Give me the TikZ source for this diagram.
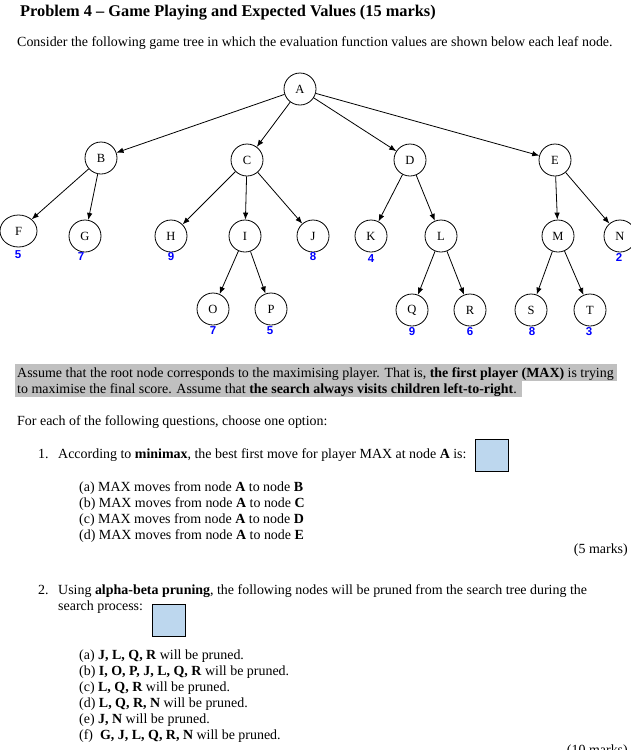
\documentclass[tikz,border=0pt]{standalone}
\usepackage{fontspec}
\setmainfont{Liberation Serif}
\newfontfamily\sansf{Liberation Sans}
\usetikzlibrary{arrows.meta,shapes.geometric}
\definecolor{boxblue}{HTML}{BDD7EE}
\definecolor{hlgray}{HTML}{C0C0C0}
\begin{document}
\begin{tikzpicture}[x=1pt,y=-1pt,
 tn/.style={circle,draw,line width=0.8pt,minimum size=32pt,inner sep=0pt,font=\fontsize{12.5}{12.5}\selectfont},
 tne/.style={ellipse,draw,line width=0.8pt,minimum width=37pt,minimum height=32pt,inner sep=0pt,font=\fontsize{12.5}{12.5}\selectfont},
 val/.style={text=blue,font=\sansf\bfseries\fontsize{11.5}{11.5}\selectfont,inner sep=0pt},
 edge/.style={-{Latex[length=7pt,width=5.5pt]},line width=0.8pt},
 txt/.style={anchor=base west,inner sep=0pt,font=\fontsize{13.95}{16}\selectfont},
 rtxt/.style={anchor=base east,inner sep=0pt,font=\fontsize{13.95}{16}\selectfont},
 ansbox/.style={draw,line width=0.8pt,fill=boxblue,minimum width=33pt,minimum height=32pt,inner sep=0pt},
 hl/.style={fill=hlgray,draw=none}
]
\useasboundingbox (0,0) rectangle (631,750);
% header
\node[anchor=base west,inner sep=0pt,font=\bfseries\fontsize{16.35}{18}\selectfont] (title) at (20,16) {Problem 4 -- Game Playing and Expected Values (15 marks)};
\node[txt] (intro) at (17,46) {Consider the following game tree in which the evaluation function values are shown below each leaf node.};
% tree
\node[tn] (A) at (300,89) {A};
\node[tn] (B) at (101,158) {B};
\node[tn] (C) at (247,160) {C};
\node[tn] (D) at (410,160) {D};
\node[tn] (E) at (555,160) {E};
\node[tne] (F) at (18.5,231) {F};
\node[tn] (G) at (85,236) {G};
\node[tn] (H) at (171,236) {H};
\node[tn] (I) at (245,236) {I};
\node[tn] (J) at (313,236) {J};
\node[tn] (K) at (371,236) {K};
\node[tn] (L) at (441,236) {L};
\node[tn] (M) at (558,236) {M};
\node[tn] (N) at (620,236) {N};
\node[tn] (O) at (213,309) {O};
\node[tn] (P) at (271,309) {P};
\node[tn] (Q) at (412,310) {Q};
\node[tn] (R) at (470,310) {R};
\node[tn] (S) at (531,310) {S};
\node[tn] (T) at (590,310) {T};
\foreach \p/\c in {A/B,A/C,A/D,A/E,B/F,B/G,C/H,C/I,C/J,D/K,D/L,E/M,E/N,I/O,I/P,L/Q,L/R,M/S,M/T}
  \draw[edge] (\p) -- (\c);
% values
\node[val] (vF) at (18,255) {5};
\node[val] (vG) at (81,257) {7};
\node[val] (vH) at (171,257) {9};
\node[val] (vJ) at (313,257) {8};
\node[val] (vK) at (371,259) {4};
\node[val] (vN) at (619,257) {2};
\node[val] (vO) at (213,331) {7};
\node[val] (vP) at (270,331) {5};
\node[val] (vQ) at (412,332) {9};
\node[val] (vR) at (470,332) {6};
\node[val] (vS) at (532,332) {8};
\node[val] (vT) at (589,332) {3};
% highlighted paragraph
\fill[hlgray] (15,364) rectangle (617,381);
\fill[hlgray] (15,381) rectangle (522,397);
\node[txt] (as1) at (17,377) {Assume that the root node corresponds to the maximising player. That is, \textbf{the first player (MAX)} is trying};
\node[txt] (as2) at (17,393) {to maximise the final score. Assume that \textbf{the search always visits children left-to-right}.};
\node[txt] (foreach) at (17,425) {For each of the following questions, choose one option:};
% question 1
\node[txt] (q1n) at (38,458) {1.};
\node[txt] (q1) at (58,458) {According to \textbf{minimax}, the best first move for player MAX at node \textbf{A} is:};
\node[ansbox] (box1) at (491.5,455) {};
\node[txt] (q1a) at (79,491) {(a) MAX moves from node \textbf{A} to node \textbf{B}};
\node[txt] (q1b) at (79,507) {(b) MAX moves from node \textbf{A} to node \textbf{C}};
\node[txt] (q1c) at (79,523) {(c) MAX moves from node \textbf{A} to node \textbf{D}};
\node[txt] (q1d) at (79,539) {(d) MAX moves from node \textbf{A} to node \textbf{E}};
\node[rtxt] (m1) at (628,553) {(5 marks)};
% question 2
\node[txt] (q2n) at (38,594) {2.};
\node[txt] (q2) at (58,594) {Using \textbf{alpha-beta pruning}, the following nodes will be pruned from the search tree during the};
\node[txt] (q2b) at (58,610) {search process:};
\node[ansbox] (box2) at (168.5,620) {};
\node[txt] (q2oa) at (79,659) {(a) \textbf{J, L, Q, R} will be pruned.};
\node[txt] (q2ob) at (79,675) {(b) \textbf{I, O, P, J, L, Q, R} will be pruned.};
\node[txt] (q2oc) at (79,691) {(c) \textbf{L, Q, R} will be pruned.};
\node[txt] (q2od) at (79,707) {(d) \textbf{L, Q, R, N} will be pruned.};
\node[txt] (q2oe) at (79,723) {(e) \textbf{J, N} will be pruned.};
\node[txt] (q2of) at (79,739) {(f)\ \ \textbf{G, J, L, Q, R, N} will be pruned.};
\node[rtxt] (m2) at (628,754) {(10 marks)};
\end{tikzpicture}
\end{document}
